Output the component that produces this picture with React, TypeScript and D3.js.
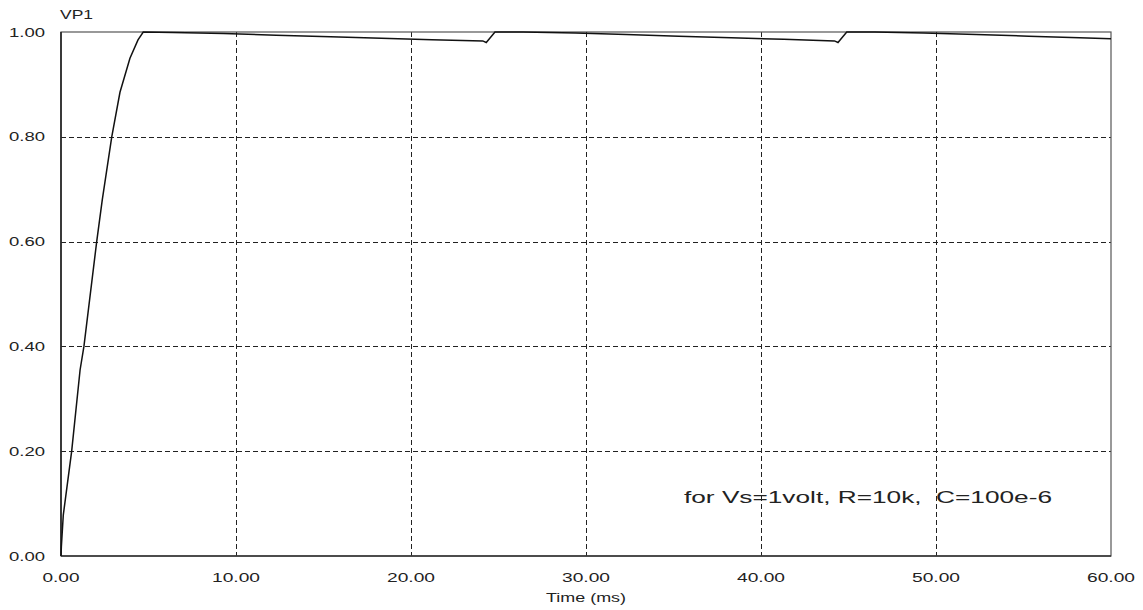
import React from 'react';
import * as d3 from 'd3';

// capacitor voltage VP1 (volts) against time (ms)
const timeMs = [
  0, 0.02, 0.13, 0.61, 1.09, 1.31, 2.04, 2.36, 2.9, 3.37, 3.94, 4.4, 4.7,
  6.4, 9.3, 12.3, 15.4, 18.3, 21.2, 24.1, 24.3, 24.55, 24.8,
  26.4, 29.4, 32.3, 35.3, 38.3, 41.3, 44.2, 44.4, 44.65, 44.9,
  46.5, 49.3, 52.3, 55.3, 58.2, 60,
];
const vp1 = [
  0, 0.017, 0.078, 0.2, 0.355, 0.4, 0.6, 0.68, 0.8, 0.885, 0.95, 0.985, 1.0,
  0.999, 0.997, 0.994, 0.991, 0.988, 0.985, 0.983, 0.98, 0.99, 1.0,
  1.0, 0.998, 0.995, 0.992, 0.989, 0.986, 0.983, 0.98, 0.99, 1.0,
  1.0, 0.998, 0.995, 0.992, 0.989, 0.987,
];

const xTicks = [0, 10, 20, 30, 40, 50, 60];
const yTicks = [0, 0.2, 0.4, 0.6, 0.8, 1.0];

const yLabel = 'VP1';
const xLabel = 'Time (ms)';
const note = 'for Vs=1volt, R=10k,  C=100e-6';

const W = 1143;
const H = 610;
const left = 61;
const right = 1111;
const top = 32;
const bottom = 556;

const font = '"Liberation Sans", Arial, sans-serif';

const App = () => {
  const x = d3.scaleLinear().domain([0, 60]).range([left, right]);
  const y = d3.scaleLinear().domain([0, 1]).range([bottom, top]);

  const pts: [number, number][] = timeMs.map((t, i) => [t, vp1[i]]);
  const line = d3.line<[number, number]>()
    .x(d => x(d[0]))
    .y(d => y(d[1]));

  return (
    <svg width={W} height={H} style={{ position: 'absolute', left: 0, top: 0, background: '#fff' }}>
      {/* dashed grid */}
      <g shapeRendering="crispEdges">
        {xTicks.slice(1, -1).map(t => (
          <line key={'gx' + t} x1={Math.round(x(t)) + 0.5} x2={Math.round(x(t)) + 0.5} y1={top} y2={bottom}
            stroke="#222" strokeWidth={1} strokeDasharray="5,3" />
        ))}
        {yTicks.slice(1, -1).map(v => (
          <line key={'gy' + v} x1={left} x2={right} y1={Math.round(y(v)) + 0.5} y2={Math.round(y(v)) + 0.5}
            stroke="#222" strokeWidth={1} strokeDasharray="5,3" />
        ))}
      </g>

      {/* frame */}
      <rect x={left} y={top} width={right - left} height={bottom - top}
        fill="none" stroke="#555" strokeWidth={1.2} />
      <line x1={left} x2={left} y1={top} y2={bottom} stroke="#222" strokeWidth={1.6} />
      <line x1={left} x2={right} y1={bottom} y2={bottom} stroke="#333" strokeWidth={1.6} />

      {/* trace */}
      <path d={line(pts) || ''} fill="none" stroke="#111" strokeWidth={1.5} />

      {/* y tick labels */}
      {yTicks.map(v => (
        <text key={'ly' + v} x={45} y={y(v) + 4.5} textAnchor="end"
          fontFamily={font} fontSize={12} fill="#222"
          textLength={36} lengthAdjust="spacingAndGlyphs">
          {v.toFixed(2)}
        </text>
      ))}

      {/* x tick labels */}
      {xTicks.map(t => {
        const s = t.toFixed(2);
        const len = s.length === 4 ? 37 : 48;
        return (
          <text key={'lx' + t} x={x(t) - len / 2} y={582}
            fontFamily={font} fontSize={12} fill="#222"
            textLength={len} lengthAdjust="spacingAndGlyphs">
            {s}
          </text>
        );
      })}

      <text x={60} y={19} fontFamily={font} fontSize={12} fill="#222"
        textLength={33} lengthAdjust="spacingAndGlyphs">{yLabel}</text>
      <text x={546} y={602} fontFamily={font} fontSize={12} fill="#222"
        textLength={80} lengthAdjust="spacingAndGlyphs">{xLabel}</text>

      <text x={684} y={503} fontFamily={font} fontSize={16} fill="#222"
        textLength={368} lengthAdjust="spacingAndGlyphs" style={{ whiteSpace: 'pre' }}>
        {note}
      </text>
    </svg>
  );
};

export default App;
